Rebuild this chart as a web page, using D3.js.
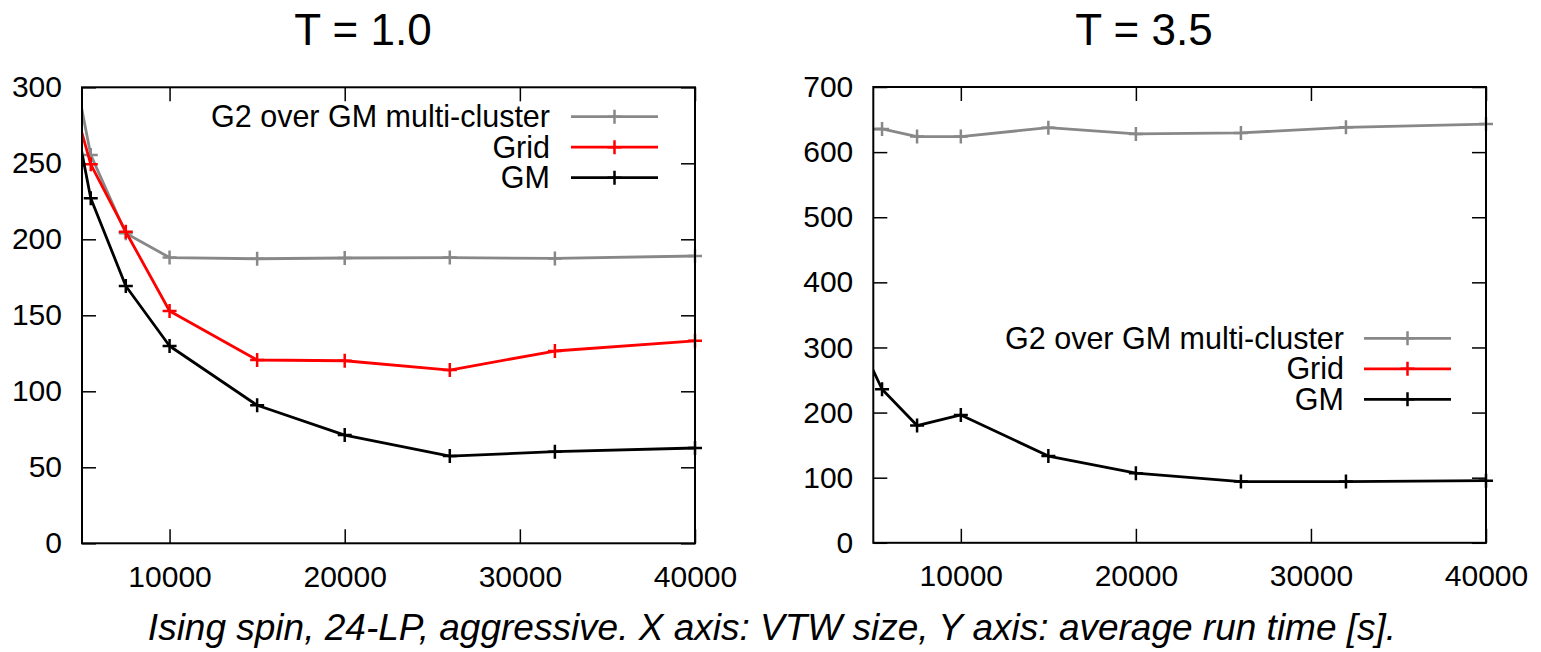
<!DOCTYPE html>
<html>
<head>
<meta charset="utf-8">
<script src="https://cdn.jsdelivr.net/npm/d3@7"></script>
<style>
  html, body { margin: 0; padding: 0; background: #fff; }
  svg { display: block; font-family: "Liberation Sans", Arial, sans-serif; }
</style>
</head>
<body>
<svg id="chart" width="1541" height="652"></svg>
<script>
// ---- data ----
const xValues = [4000, 5500, 7500, 10000, 15000, 20000, 26000, 32000, 40000];
const xTicks = [10000, 20000, 30000, 40000];

const seriesNames = ["G2 over GM multi-cluster", "Grid", "GM"];
const seriesColors = ["#888888", "#ff0000", "#000000"];

// T = 1.0
const g2Left   = [344, 255.5, 204, 188, 187.2, 187.7, 188, 187.4, 189];
const gridLeft = [311, 249.3, 205, 152.8, 120.6, 120.1, 114, 126.5, 133.2];
const gmLeft   = [316, 227, 169.3, 129.8, 90.8, 71.2, 57.4, 60.3, 62.7];
const yTicksLeft = [0, 50, 100, 150, 200, 250, 300];

// T = 3.5  (Grid is off-scale, not visible)
const g2Right   = [635, 635.6, 623.8, 623.8, 637.6, 628, 629.5, 638, 643];
const gridRight = [];
const gmRight   = [321.6, 235.8, 180, 196.3, 133.3, 107, 94, 94, 95.4];
const yTicksRight = [0, 100, 200, 300, 400, 500, 600, 700];

const titles = ["T = 1.0", "T = 3.5"];
const caption = "Ising spin, 24-LP, aggressive. X axis: VTW size, Y axis: average run time [s].";

// ---- drawing ----
const svg = d3.select("#chart");

const panels = [
  { title: titles[0], titleX: 363, x0: 82, x1: 695, yTop: 87.3, yBot: 543.3, yMax: 300, yTicks: yTicksLeft,
    series: [g2Left, gridLeft, gmLeft], legend: { textX: 550, lx1: 571, lx2: 658, y0: 116.7, dy: 30.5 } },
  { title: titles[1], titleX: 1144, x0: 873.3, x1: 1486, yTop: 87, yBot: 542.8, yMax: 700, yTicks: yTicksRight,
    series: [g2Right, gridRight, gmRight], legend: { textX: 1344, lx1: 1364, lx2: 1451, y0: 338.3, dy: 30.5 } }
];

function plus(g, cx, cy, color) {
  const s = 7;
  g.append("path")
    .attr("d", `M${cx - s},${cy}H${cx + s}M${cx},${cy - s}V${cy + s}`)
    .attr("stroke", color).attr("stroke-width", 2.5).attr("fill", "none");
}

panels.forEach((p, pi) => {
  const x = d3.scaleLinear().domain([5000, 40000]).range([p.x0, p.x1]);
  const y = d3.scaleLinear().domain([0, p.yMax]).range([p.yBot, p.yTop]);
  const g = svg.append("g");

  // title
  g.append("text").attr("x", p.titleX).attr("y", 45)
    .attr("text-anchor", "middle").attr("font-size", 44).text(p.title);

  // clip
  const clipId = "clip" + pi;
  svg.append("clipPath").attr("id", clipId).append("rect")
    .attr("x", p.x0).attr("y", p.yTop).attr("width", p.x1 - p.x0).attr("height", p.yBot - p.yTop);

  // axes
  const styleAxis = sel => {
    sel.select(".domain").remove();
    sel.selectAll(".tick line").attr("stroke", "#000").attr("stroke-width", 1.5);
    sel.selectAll(".tick text").attr("font-size", 30).attr("fill", "#000")
      .attr("font-family", "'Liberation Sans', Arial, sans-serif");
  };
  g.append("g").attr("transform", `translate(0,${p.yBot})`)
    .call(d3.axisBottom(x).tickValues(xTicks).tickSize(-14).tickPadding(22).tickFormat(d3.format("d")))
    .call(styleAxis);
  g.append("g").attr("transform", `translate(0,${p.yTop})`)
    .call(d3.axisTop(x).tickValues(xTicks).tickSize(-14).tickFormat(""))
    .call(styleAxis);
  g.append("g").attr("transform", `translate(${p.x0},0)`)
    .call(d3.axisLeft(y).tickValues(p.yTicks).tickSize(-14).tickPadding(20).tickFormat(d3.format("d")))
    .call(styleAxis);
  g.append("g").attr("transform", `translate(${p.x1},0)`)
    .call(d3.axisRight(y).tickValues(p.yTicks).tickSize(-14).tickFormat(""))
    .call(styleAxis);

  // series
  const line = d3.line().x(d => x(d[0])).y(d => y(d[1]));
  p.series.forEach((vals, si) => {
    if (!vals.length) return;
    const pts = vals.map((v, i) => [xValues[i], v]);
    g.append("path").datum(pts)
      .attr("clip-path", `url(#${clipId})`)
      .attr("d", line).attr("fill", "none")
      .attr("stroke", seriesColors[si]).attr("stroke-width", 2.8)
      .attr("stroke-linejoin", "round");
    const mg = g.append("g");
    pts.filter(d => d[0] >= 5000 && d[0] <= 40000 && d[1] >= 0 && d[1] <= p.yMax)
      .forEach(d => plus(mg, x(d[0]), y(d[1]), seriesColors[si]));
  });

  // legend
  seriesNames.forEach((name, si) => {
    const ly = p.legend.y0 + si * p.legend.dy;
    g.append("text").attr("x", p.legend.textX).attr("y", ly).attr("dy", "0.35em")
      .attr("text-anchor", "end").attr("font-size", 30.5).text(name);
    g.append("line").attr("x1", p.legend.lx1).attr("x2", p.legend.lx2)
      .attr("y1", ly).attr("y2", ly)
      .attr("stroke", seriesColors[si]).attr("stroke-width", 2.8);
    plus(g, (p.legend.lx1 + p.legend.lx2) / 2, ly, seriesColors[si]);
  });

  // frame
  g.append("rect").attr("x", p.x0).attr("y", p.yTop)
    .attr("width", p.x1 - p.x0).attr("height", p.yBot - p.yTop)
    .attr("fill", "none").attr("stroke", "#000").attr("stroke-width", 2);
});

svg.append("text").attr("x", 772).attr("y", 640)
  .attr("text-anchor", "middle").attr("font-size", 37).attr("font-style", "italic")
  .text(caption);
</script>
</body>
</html>
